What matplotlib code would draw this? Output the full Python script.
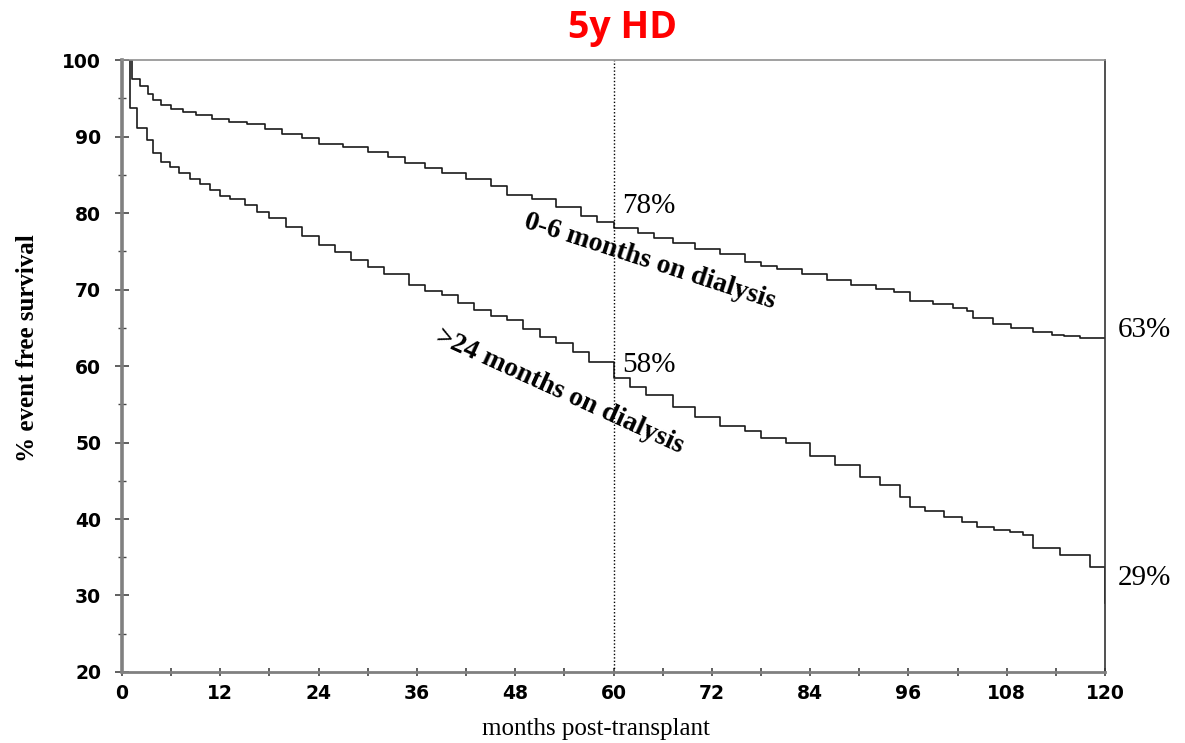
import matplotlib
matplotlib.use("Agg")
import matplotlib.pyplot as plt
from matplotlib.ticker import MultipleLocator

# ---- data ----
months_short = [0, 1.2, 2.2, 3.2, 3.8, 4.8, 6.0, 7.5, 9.0, 11.0, 13.0, 15.2, 17.5,
                19.5, 22.0, 24.0, 27.0, 30.0, 32.5, 34.6, 37.0, 39.0, 42.0, 45.0,
                47.0, 50.0, 53.0, 56.0, 58.0, 60.0, 63.0, 65.0, 67.3, 70.0, 73.0,
                76.0, 78.0, 80.0, 83.0, 86.0, 89.0, 92.0, 94.2, 96.2, 99.0, 101.5,
                103.2, 103.9, 106.3, 108.5, 111.2, 113.5, 115.0, 117.0, 120.0]
surv_short = [100, 97.5, 96.6, 95.6, 94.8, 94.2, 93.6, 93.2, 92.8, 92.3, 91.9, 91.6,
              91.0, 90.4, 89.8, 89.1, 88.6, 88.0, 87.3, 86.6, 85.9, 85.3, 84.5, 83.5,
              82.4, 81.9, 80.8, 79.6, 78.9, 78.0, 77.4, 76.8, 76.1, 75.3, 74.6, 73.6,
              73.1, 72.7, 72.0, 71.2, 70.6, 70.1, 69.7, 68.5, 68.1, 67.6, 67.2, 66.3,
              65.5, 65.0, 64.4, 64.1, 63.9, 63.7, 63.7]

months_long = [0, 1.0, 1.8, 3.0, 3.8, 4.8, 5.9, 7.0, 8.3, 9.5, 10.7, 12.0, 13.2,
               15.0, 16.5, 18.0, 20.0, 22.0, 24.0, 26.0, 28.0, 30.0, 32.0, 35.0,
               37.0, 39.0, 41.0, 43.0, 45.0, 47.0, 49.0, 51.0, 53.0, 55.0, 57.0,
               60.0, 62.0, 64.0, 67.3, 70.0, 73.0, 76.0, 78.0, 81.0, 84.0, 87.0,
               90.1, 92.5, 95.0, 96.2, 98.0, 100.3, 102.5, 104.4, 106.5, 108.4,
               110.0, 111.2, 114.5, 118.2, 120.0]
surv_long = [100, 93.8, 91.1, 89.5, 87.8, 86.7, 86.0, 85.3, 84.5, 83.8, 83.0, 82.3,
             81.8, 81.0, 80.2, 79.4, 78.2, 77.0, 75.8, 74.9, 73.9, 72.9, 72.0, 70.6,
             69.8, 69.3, 68.2, 67.3, 66.6, 66.0, 64.9, 63.8, 63.0, 61.8, 60.5, 58.4,
             57.3, 56.2, 54.6, 53.3, 52.2, 51.5, 50.6, 49.9, 48.3, 47.0, 45.5, 44.4,
             42.9, 41.6, 41.0, 40.3, 39.6, 39.0, 38.6, 38.3, 37.9, 36.2, 35.3, 33.7,
             29.0]

x_ticks = [0, 12, 24, 36, 48, 60, 72, 84, 96, 108, 120]
y_ticks = [20, 30, 40, 50, 60, 70, 80, 90, 100]

# ---- figure ----
fig = plt.figure(figsize=(11.85, 7.43), dpi=100)
ax = fig.add_axes([0.103, 0.0956, 0.8295, 0.8234])

line_col = "#1a1a1a"
ax.plot(months_short, surv_short, drawstyle="steps-post", color=line_col, lw=1.2)
ax.plot(months_long, surv_long, drawstyle="steps-post", color=line_col, lw=1.2)

ax.axvline(60, color="black", ls=(0, (1, 1.5)), lw=1.0)

ax.set_xlim(0, 120)
ax.set_ylim(20, 100)
ax.set_xticks(x_ticks)
ax.set_yticks(y_ticks)
ax.xaxis.set_minor_locator(MultipleLocator(6))
ax.yaxis.set_minor_locator(MultipleLocator(5))

tick_font = dict(family="DejaVu Sans", weight="bold", size=13.5)
ax.set_xticklabels([str(v) for v in x_ticks], fontdict=tick_font)
ax.set_yticklabels([str(v) for v in y_ticks], fontdict=tick_font)

ax.tick_params(axis="y", which="major", direction="inout", length=10, width=1.2,
               color="#444", pad=10)
ax.tick_params(axis="y", which="minor", direction="inout", length=6, width=1.0,
               color="#444")
ax.tick_params(axis="x", which="major", direction="inout", length=6, width=1.2,
               color="#444", pad=6)
ax.tick_params(axis="x", which="minor", direction="inout", length=6, width=1.2,
               color="#444")

ax.spines["left"].set_color("#808080")
ax.spines["left"].set_linewidth(2.6)
ax.spines["bottom"].set_color("#808080")
ax.spines["bottom"].set_linewidth(2.0)
ax.spines["top"].set_color("#909090")
ax.spines["top"].set_linewidth(1.2)
ax.spines["right"].set_color("#333333")
ax.spines["right"].set_linewidth(1.2)

serif = ["Liberation Serif", "DejaVu Serif"]
ax.set_ylabel("% event free survival", family=serif, weight="bold", size=18,
              labelpad=14)
ax.yaxis.set_label_coords(-0.085, 0.53)
ax.set_xlabel("months post-transplant", family=serif, size=18)
ax.xaxis.set_label_coords(0.4825, -0.075)

# annotations
ax.text(61.0, 80.9, "78%", family=serif, size=21, ha="left", va="center")
ax.text(61.0, 60.1, "58%", family=serif, size=21, ha="left", va="center")
ax.text(121.6, 64.7, "63%", family=serif, size=21, ha="left", va="center",
        clip_on=False)
ax.text(121.5, 32.3, "29%", family=serif, size=21, ha="left", va="center",
        clip_on=False)

ax.text(64.4, 73.7, "0-6 months on dialysis", family=serif, weight="bold", size=20,
        rotation=-18.0, rotation_mode="anchor", ha="center", va="center")
ax.text(53.4, 56.7, ">24 months on dialysis", family=serif, weight="bold", size=20,
        rotation=-24.5, rotation_mode="anchor", ha="center", va="center")

fig.text(0.525, 0.962, "5y HD", color="#ff0000", family="Open Sans",
         weight="bold", size=27, ha="center", va="center")

fig.savefig("out.png", dpi=100, facecolor="white")
